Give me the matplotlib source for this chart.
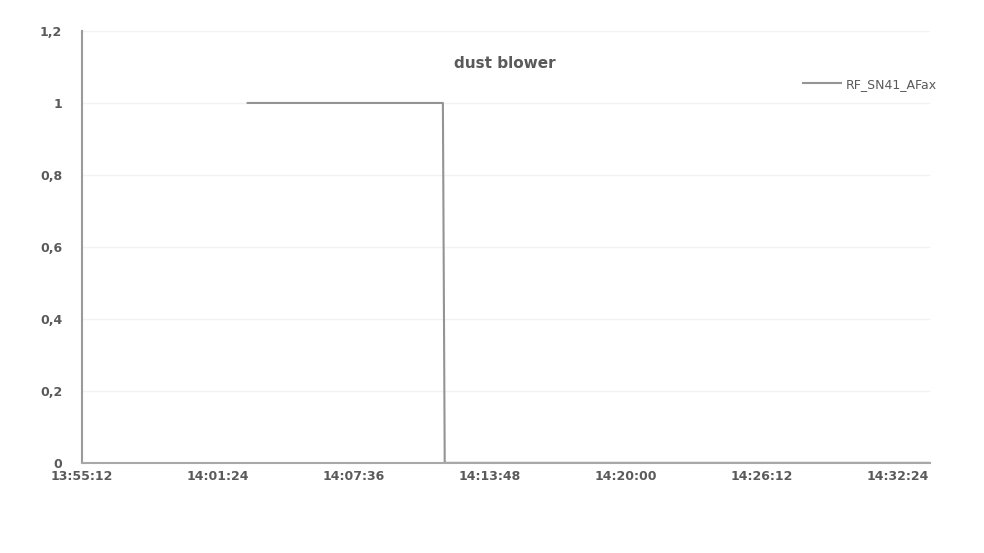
import matplotlib
matplotlib.use("Agg")
import matplotlib.pyplot as plt
import matplotlib.dates as mdates
import pandas as pd

# series (time of day, value)
times = ["14:02:46", "14:11:40", "14:11:45", "14:33:52"]
values = [1, 1, 0, 0]

tick_times = ["13:55:12", "14:01:24", "14:07:36", "14:13:48",
              "14:20:00", "14:26:12", "14:32:24"]
y_ticks = [0, 0.2, 0.4, 0.6, 0.8, 1, 1.2]
y_labels = ["0", "0,2", "0,4", "0,6", "0,8", "1", "1,2"]

day = "2020-01-01 "
t = pd.to_datetime([day + s for s in times])
ticks = pd.to_datetime([day + s for s in tick_times])

fig = plt.figure(figsize=(9.84, 5.53), dpi=100)
ax = fig.add_axes([0.083, 0.163, 0.862, 0.781])

txt = "#5a5a5a"
ax.plot(t, values, color="#949494", lw=1.5, label="RF_SN41_AFax")

ax.set_xlim(ticks[0], pd.Timestamp(day + "14:33:52"))
ax.set_ylim(0, 1.2)
ax.set_yticks(y_ticks)
ax.set_yticklabels(y_labels)
ax.set_xticks(ticks)
ax.xaxis.set_major_formatter(mdates.DateFormatter("%H:%M:%S"))
ax.tick_params(length=0, colors=txt, labelsize=9)
ax.tick_params(axis="y", pad=14)
ax.tick_params(axis="x", pad=5)
for lab in ax.get_xticklabels() + ax.get_yticklabels():
    lab.set_fontweight("bold")

ax.grid(axis="y", color="#f2f2f2", lw=1)
for s in ["top", "right"]:
    ax.spines[s].set_visible(False)
ax.spines["left"].set_color("#9a9a9a")
ax.spines["left"].set_linewidth(1.5)
ax.spines["bottom"].set_color("#a8a8a8")
ax.spines["bottom"].set_linewidth(1.5)

fig.text(0.513, 0.885, "dust blower", ha="center", va="center",
         fontsize=11, fontweight="bold", color=txt)
fig.legend(loc="center left", bbox_to_anchor=(0.805, 0.848), frameon=False,
           fontsize=9, labelcolor=txt, handlelength=3.0, handletextpad=0.4)

fig.savefig("out.png", dpi=100)
